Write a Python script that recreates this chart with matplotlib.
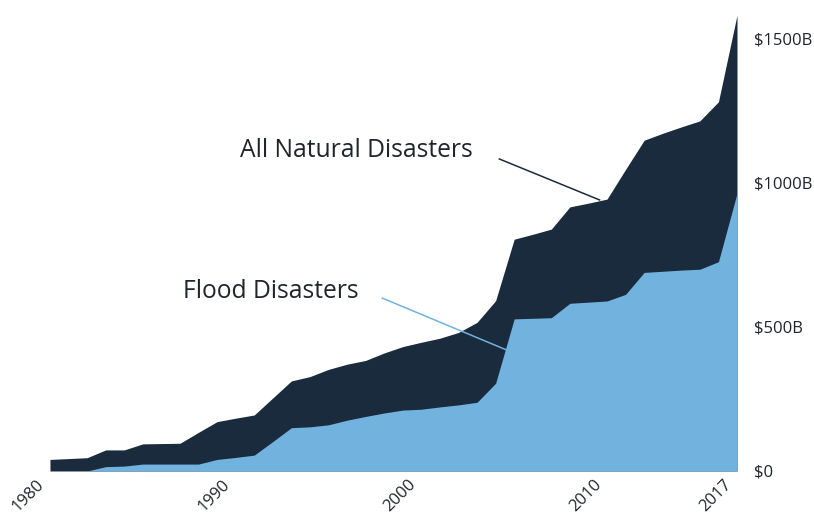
import matplotlib.pyplot as plt
import matplotlib.transforms as mtransforms
import numpy as np

plt.rcParams['font.family'] = ['Open Sans', 'DejaVu Sans']

# cumulative damages, billions USD
years = np.arange(1980, 2018)
all_disasters = [40, 43, 46, 73, 73, 94, 95, 96, 134, 171,
                 183, 194, 253, 312, 327, 352, 370, 383, 409, 431,
                 446, 460, 480, 515, 590, 803, 820, 838, 915, 928,
                 942, 1045, 1146, 1170, 1192, 1213, 1279, 1579]
flood = [0, 0, 0, 15, 17, 24, 24, 24, 24, 40,
         47, 55, 102, 150, 153, 160, 176, 189, 201, 211,
         214, 222, 229, 238, 304, 527, 529, 531, 581, 585,
         589, 612, 688, 692, 696, 699, 725, 962]

tick_years = [1980, 1990, 2000, 2010, 2017]
tick_vals = [0, 500, 1000, 1500]
tick_labels = ['$0', '$500B', '$1000B', '$1500B']

DARK = '#192b3c'
LIGHT = '#71b2de'
TEXT = '#1f252b'

fig = plt.figure(figsize=(8.14, 5.12), dpi=100)
ax = fig.add_axes([0.0614, 0.0801, 0.844, 0.902])

ax.fill_between(years, 0, all_disasters, color=DARK, linewidth=0)
ax.fill_between(years, 0, flood, color=LIGHT, linewidth=0)

ax.set_xlim(1980, 2017)
ax.set_ylim(0, 1600)

for s in ax.spines.values():
    s.set_visible(False)

ax.yaxis.tick_right()
ax.set_yticks(tick_vals)
ax.set_yticklabels(tick_labels)
ax.tick_params(axis='y', length=0, pad=12, labelsize=12, labelcolor=TEXT)

ax.set_xticks(tick_years)
ax.set_xticklabels([str(y) for y in tick_years], rotation=45, ha='right',
                   rotation_mode='anchor')
ax.tick_params(axis='x', length=0, pad=4, labelsize=12, labelcolor=TEXT)
shift = mtransforms.ScaledTranslation(-10 / 72, 0, fig.dpi_scale_trans)
for tick in ax.xaxis.get_major_ticks():
    tick.label1.set_transform(tick.label1.get_transform() + shift)

# labels with leader lines
ax.text(1996.5, 1112, 'All Natural Disasters', fontsize=17.7, color=TEXT,
        ha='center', va='center')
ax.plot([2004.2, 2009.6], [1081, 939], color=DARK, linewidth=1.1)

ax.text(1991.9, 623, 'Flood Disasters', fontsize=17.7, color=TEXT,
        ha='center', va='center')
ax.plot([1997.9, 2004.6], [599, 419], color=LIGHT, linewidth=1.1)

fig.savefig('out.png', dpi=100)
